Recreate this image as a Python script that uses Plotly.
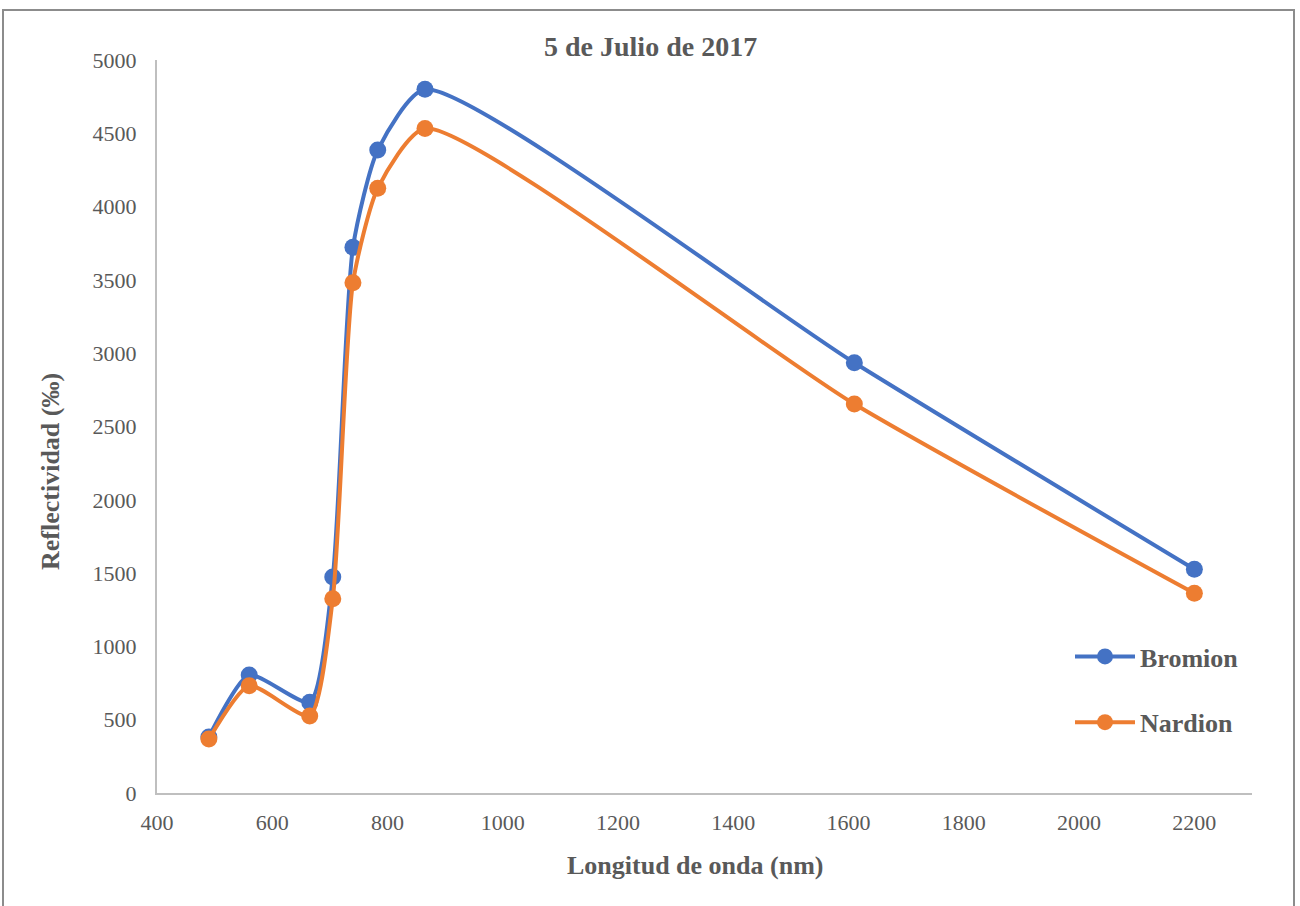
import plotly.graph_objects as go

# Longitudes de onda (nm) de las bandas
longitud_onda = [490, 560, 665, 705, 740, 783, 865, 1610, 2200]

# Reflectividad (‰) por comunidad
bromion = [382, 805, 619, 1473, 3722, 4386, 4800, 2935, 1526]
nardion = [368, 732, 525, 1325, 3481, 4125, 4533, 2653, 1362]

series = [("Bromion", bromion, "#4472C4"), ("Nardion", nardion, "#ED7D31")]

x_ticks = list(range(400, 2201, 200))
y_ticks = list(range(0, 5001, 500))

W, H = 1300, 906
L, R, T, B = 157, 48, 60, 113
pw, ph = W - L - R, H - T - B


def px_to_paper_x(px):
    return (px - L) / pw


def px_to_paper_y(py):
    return (H - B - py) / ph


text_color = "#595959"
serif = "Liberation Serif, Times New Roman, serif"

fig = go.Figure()
for name, vals, color in series:
    fig.add_trace(go.Scatter(
        x=longitud_onda, y=vals, name=name, mode="lines+markers",
        line=dict(color=color, width=4, shape="spline", smoothing=0.6),
        marker=dict(color=color, size=17),
        legendgroup=name,
    ))

fig.update_layout(
    width=W, height=H,
    margin=dict(l=L, r=R, t=T, b=B),
    paper_bgcolor="white", plot_bgcolor="white",
    font=dict(family=serif, color=text_color, size=22),
    showlegend=True,
    legend=dict(
        x=px_to_paper_x(1070), y=px_to_paper_y(633),
        xanchor="left", yanchor="top",
        bgcolor="rgba(0,0,0,0)",
        font=dict(family=serif, size=26, color=text_color, weight="bold"),
        tracegroupgap=29, traceorder="grouped",
        itemwidth=60,
    ),
    xaxis=dict(
        range=[400, 2300], tickvals=x_ticks, ticktext=[str(v) for v in x_ticks],
        showgrid=False, zeroline=False, showline=True,
        linecolor="#BFBFBF", linewidth=2, ticks="",
        ticklabelstandoff=9,
        tickfont=dict(family=serif, size=22, color=text_color),
    ),
    yaxis=dict(
        range=[0, 5000], tickvals=y_ticks, ticktext=[str(v) for v in y_ticks],
        showgrid=False, zeroline=False, showline=True,
        linecolor="#BFBFBF", linewidth=2, ticks="",
        ticklabelstandoff=14,
        tickfont=dict(family=serif, size=22, color=text_color),
    ),
    annotations=[
        dict(text="<b>5 de Julio de 2017</b>", xref="paper", yref="paper",
             x=px_to_paper_x(650), y=px_to_paper_y(47), showarrow=False,
             xanchor="center", yanchor="middle",
             font=dict(family=serif, size=28, color=text_color)),
        dict(text="<b>Longitud de onda (nm)</b>", xref="paper", yref="paper",
             x=px_to_paper_x(695), y=px_to_paper_y(865), showarrow=False,
             xanchor="center", yanchor="middle",
             font=dict(family=serif, size=26, color=text_color)),
        dict(text="<b>Reflectividad (‰)</b>", xref="paper", yref="paper",
             x=px_to_paper_x(50), y=px_to_paper_y(472), showarrow=False,
             xanchor="center", yanchor="middle", textangle=-90,
             font=dict(family=serif, size=26, color=text_color)),
    ],
    shapes=[
        dict(type="rect", xref="paper", yref="paper",
             x0=px_to_paper_x(3), x1=px_to_paper_x(1294),
             y0=px_to_paper_y(920), y1=px_to_paper_y(10),
             line=dict(color="#8C8C8C", width=2), fillcolor="rgba(0,0,0,0)",
             layer="below"),
    ],
)

fig.write_html("out.html")
